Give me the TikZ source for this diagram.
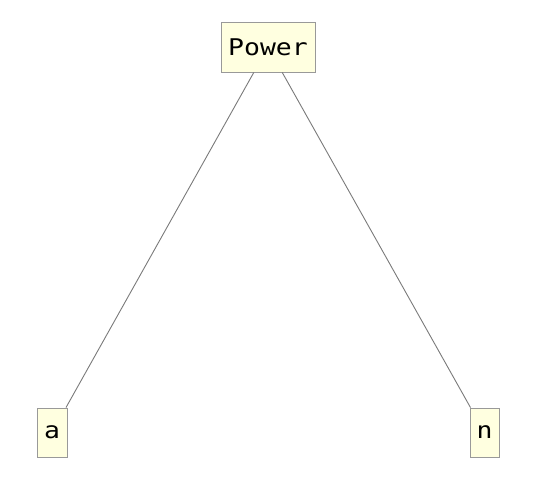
\documentclass[tikz,border=0pt]{standalone}
\usepackage{fontspec}
\newfontfamily\boxfont[FakeStretch=1.15]{DejaVu Sans Mono}
\definecolor{boxfill}{HTML}{FFFFE0}
\definecolor{boxline}{HTML}{999999}
\definecolor{edgecol}{HTML}{7A7A7A}
\begin{document}
\begin{tikzpicture}[x=1pt,y=-1pt,
  treebox/.style={draw=boxline,fill=boxfill,line width=0.9pt,inner sep=0pt,
    font=\boxfont\fontsize{23}{26}\selectfont},
  edge/.style={draw=edgecol,line width=0.9pt}]
\useasboundingbox (0,0) rectangle (540,483);
\node[treebox,minimum width=94pt,minimum height=50pt] (p) at (268,47) {Power};
\node[treebox,minimum width=30pt,minimum height=49pt] (a) at (52,432.5) {a};
\node[treebox,minimum width=29pt,minimum height=49pt] (n) at (484.5,432.5) {n};
\draw[edge] (p) -- (a);
\draw[edge] (p) -- (n);
\end{tikzpicture}
\end{document}
